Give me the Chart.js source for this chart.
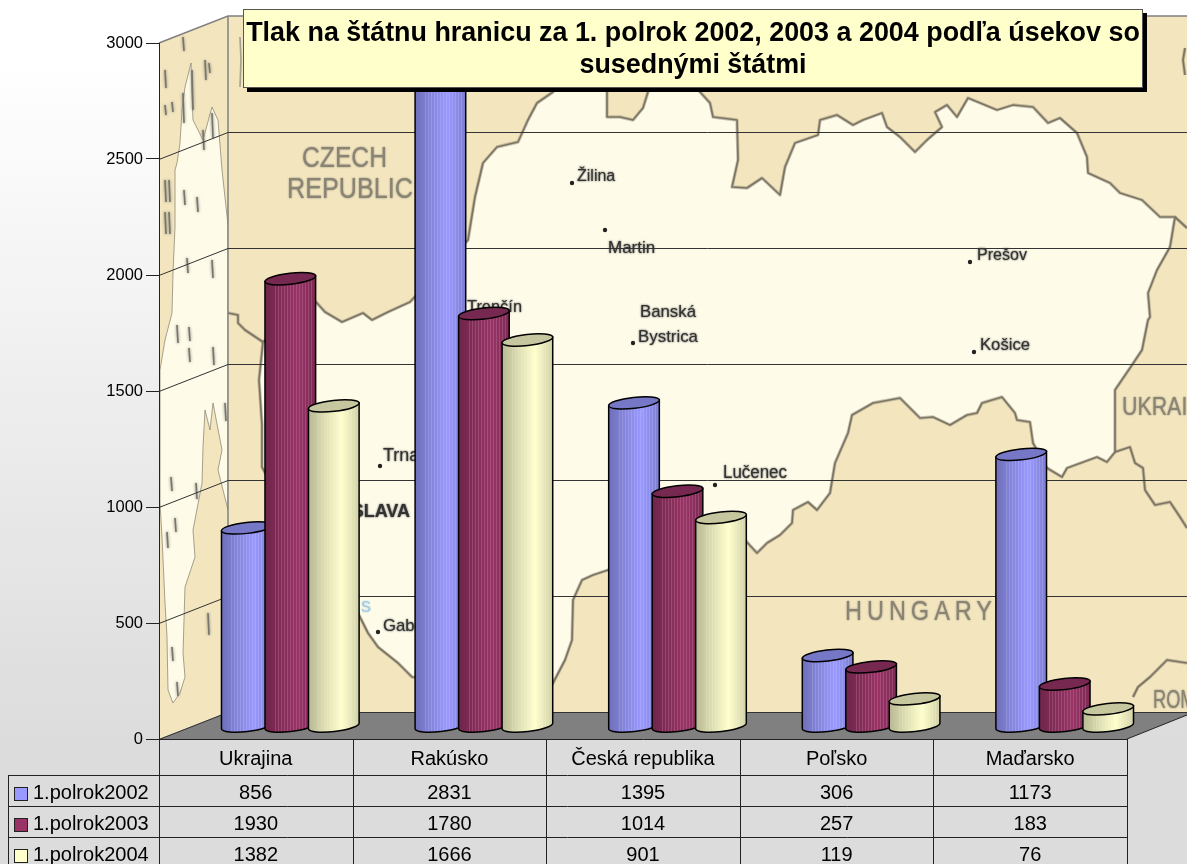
<!DOCTYPE html>
<html>
<head>
<meta charset="utf-8">
<title>Tlak na štátnu hranicu</title>
<script src="https://cdn.jsdelivr.net/npm/chart.js@4"></script>
<style>
    html, body { margin: 0; padding: 0; width: 1187px; height: 864px; overflow: hidden; }
    body { background: linear-gradient(to bottom, #ffffff 0, #ffffff 60px, #dcdcdc 740px, #dcdcdc 864px); position: relative; }
    canvas { position: absolute; left: 0; top: 0; }
    #title {
        position: absolute; left: 243px; top: 9px; width: 898px; height: 71px;
        background: #ffffcc; border: 1px solid #555; box-shadow: 4px 4px 0 #000;
        font: bold 26.9px "Liberation Sans", Arial, sans-serif; color: #000;
        text-align: center; line-height: 32px; padding-top: 6px; white-space: nowrap;
    }
</style>
</head>
<body>
<canvas id="chart" width="1187" height="864"></canvas>
<div id="title">Tlak na štátnu hranicu za 1. polrok 2002, 2003 a 2004 podľa úsekov so<br>susednými štátmi</div>
<script>
// Data
const categories = ['Ukrajina', 'Rakúsko', 'Česká republika', 'Poľsko', 'Maďarsko'];
const seriesNames = ['1.polrok2002', '1.polrok2003', '1.polrok2004'];
const polrok2002 = [856, 2831, 1395, 306, 1173];
const polrok2003 = [1930, 1780, 1014, 257, 183];
const polrok2004 = [1382, 1666, 901, 119, 76];
const seriesColors = ['#9999ff', '#993366', '#ffffcc'];
const yTicks = [0, 500, 1000, 1500, 2000, 2500, 3000];

const FONT = '"Liberation Sans", Arial, sans-serif';
// 3D depth of the box: back wall is shifted this far from the front plane
const DEPTH_X = 69, DEPTH_Y = -27;

function shade(hex, f) {
    const n = parseInt(hex.slice(1), 16);
    const c = s => Math.min(255, Math.round(((n >> s) & 255) * f));
    return `rgb(${c(16)},${c(8)},${c(0)})`;
}

// Map picture behind the plot, traced by hand
const slovakiaOutline = [
    [553,92],[537,103],[528,120],[518,142],[497,147],[483,163],[475,197],[468,240],
    [410,302],[388,312],[372,320],[363,313],[342,322],[325,312],[316,302],
    [263,342],[259,380],[262,425],[262,467],[300,540],[358,613],[368,633],[378,647],[398,663],[412,677],
    [552,685],[565,660],[572,640],[573,600],[582,580],[593,575],[608,570],
    [745,540],[757,553],[767,543],[780,535],[792,523],[793,510],[808,502],[817,510],[830,493],[835,463],
    [848,433],[852,415],[873,403],[900,398],[920,418],[933,417],[950,425],[967,415],[977,413],[982,403],
    [1002,397],[1015,413],[1017,420],[1030,422],[1033,443],[1047,468],[1062,477],[1067,468],[1097,457],
    [1107,462],[1115,452],[1115,420],[1115,390],[1132,365],[1142,350],[1148,320],[1150,317],[1148,293],
    [1157,270],[1170,247],[1175,217],[1160,217],[1142,200],[1120,193],[1110,183],[1088,173],[1087,157],
    [1077,133],[1060,118],[1048,123],[1033,107],[1013,105],[997,110],[968,98],[957,117],[947,105],[935,112],
    [942,127],[927,140],[915,152],[900,137],[887,127],[882,113],[863,120],[853,125],[837,115],[820,120],
    [818,135],[795,143],[785,167],[780,195],[762,178],[747,188],[732,187],[738,160],[737,120],[713,117],
    [710,103],[700,92],[695,80],[648,80],[648,92],[643,108],[633,120],[620,117],[607,117],[607,92],[600,80],[560,80]
];
const sideOutline = [
    [191,63],[192,97],[193,120],[203,140],[212,107],[218,120],[222,170],[228,225],[228,510],[218,470],
    [222,450],[213,403],[210,430],[205,410],[203,447],[202,483],[193,530],[195,557],[185,587],[183,653],
    [185,677],[180,693],[173,703],[168,690],[167,637],[165,603],[162,537],[160,503],[160,370],[165,340],
    [172,313],[173,273],[175,227],[175,170],[177,163],[180,143],[182,110],[185,87]
];
const sideMarks = [
    [165,70,18],[165,105,10],[172,102,10],[205,60,20],[209,63,10],[183,93,30],[192,70,40],[203,130,20],[212,113,25],
    [165,180,22],[169,180,22],[165,212,22],[169,212,22],[184,190,15],[197,197,15],[187,258,15],[212,260,18],
    [177,325,18],[189,327,14],[189,348,14],[213,347,18],[171,477,14],[196,483,16],[175,518,14],[167,532,16],
    [172,647,14],[177,682,14],[208,613,22],[225,403,18],[183,37,14]
];
const cityDots = [[572,183],[605,230],[633,343],[970,262],[974,352],[715,485],[380,466],[378,632]];
const mapLabels = [
    ['CZECH', 302, 167, 85, 30, 0], ['REPUBLIC', 287, 198, 126, 30, 0],
    ['Žilina', 577, 181, 40, 16, 0], ['Martin', 608, 253, 49, 17, 0], ['Trenčín', 467, 312, 55, 17, 0],
    ['Banská', 640, 317, 56, 17, 0], ['Bystrica', 638, 342, 60, 17, 0], ['Prešov', 977, 260, 50, 17, 0],
    ['Košice', 980, 350, 50, 17, 0], ['Lučenec', 723, 478, 64, 18, 0], ['Trnava', 383, 461, 60, 18, 0],
    ['BRATISLAVA', 298, 517, 128, 18, 1], ['Gabčíkovo', 383, 631, 80, 17, 0],
    ['UKRAINE', 1122, 415, 95, 26, 0], ['ROMANIA', 1153, 708, 85, 26, 0]
];

function tracePath(ctx, pts) {
    ctx.beginPath();
    pts.forEach((p, i) => i ? ctx.lineTo(p[0], p[1]) : ctx.moveTo(p[0], p[1]));
}

function polyline(ctx, pts) {
    tracePath(ctx, pts);
    ctx.stroke();
}

// Draw the scan-like border twice so it looks soft
function softBorder(ctx, pts, closed) {
    tracePath(ctx, pts);
    if (closed) ctx.closePath();
    ctx.strokeStyle = 'rgba(125,117,100,0.4)';
    ctx.lineWidth = 3.4;
    ctx.stroke();
    ctx.strokeStyle = '#7d7564';
    ctx.lineWidth = 1.7;
    ctx.stroke();
}

const mapBackground = {
    id: 'mapBackground',
    beforeDraw(chart) {
        const ctx = chart.ctx, area = chart.chartArea, y = chart.scales.y;
        const backLeft = area.left + DEPTH_X, backTop = area.top + DEPTH_Y, backBottom = area.bottom + DEPTH_Y;
        const W = chart.width;

        // back wall
        ctx.save();
        ctx.beginPath();
        ctx.rect(backLeft, backTop, W - backLeft, backBottom - backTop);
        ctx.clip();
        ctx.fillStyle = '#f3e6bf';
        ctx.fillRect(backLeft, backTop, W - backLeft, backBottom - backTop);
        ctx.fillStyle = '#fefbe9';
        tracePath(ctx, slovakiaOutline);
        ctx.closePath();
        ctx.fill();
        ctx.lineJoin = 'round';
        softBorder(ctx, slovakiaOutline, true);
        softBorder(ctx, [[263,342],[245,330],[238,323],[238,315],[228,313]]);
        softBorder(ctx, [[1175,217],[1187,228]]);
        softBorder(ctx, [[1115,452],[1130,447],[1135,463],[1143,468],[1145,490],[1155,505],[1170,502],[1180,517],[1187,528]]);
        softBorder(ctx, [[1133,697],[1138,687],[1150,677],[1167,660],[1187,663]]);
        softBorder(ctx, [[1185,48],[1183,60],[1185,75]]);
        ctx.strokeStyle = '#a8a291';
        polyline(ctx, [[240,37],[241,60],[240,87]]);

        ctx.fillStyle = '#222';
        cityDots.forEach(d => {
            ctx.beginPath();
            ctx.arc(d[0], d[1], 2.2, 0, Math.PI * 2);
            ctx.fill();
        });
        mapLabels.forEach(l => {
            const big = l[4] > 20;
            ctx.fillStyle = big ? '#8a8474' : '#333';
            ctx.shadowColor = ctx.fillStyle;
            ctx.shadowBlur = 2;
            ctx.font = (l[5] ? 'bold ' : '') + l[4] + 'px ' + FONT;
            ctx.fillText(l[0], l[1], l[2], l[3]);
        });
        ctx.fillStyle = '#8a8474';
        ctx.shadowColor = '#8a8474';
        ctx.font = '28px ' + FONT;
        ctx.letterSpacing = '6px';
        ctx.fillText('HUNGARY', 845, 620, 152);
        ctx.letterSpacing = '0px';
        ctx.fillStyle = '#a5cde2';
        ctx.shadowColor = '#a5cde2';
        ctx.font = '20px ' + FONT;
        ctx.fillText('s', 361, 612);
        ctx.restore();

        // side wall
        ctx.save();
        tracePath(ctx, [[area.left, area.top], [backLeft, backTop], [backLeft, backBottom], [area.left, area.bottom]]);
        ctx.closePath();
        ctx.clip();
        ctx.fillStyle = '#f3e6bf';
        ctx.fill();
        ctx.fillStyle = '#fefbe9';
        tracePath(ctx, sideOutline);
        ctx.closePath();
        ctx.fill();
        ctx.strokeStyle = 'rgba(130,124,108,0.7)';
        ctx.lineWidth = 1;
        ctx.stroke();
        ctx.strokeStyle = '#77756c';
        ctx.shadowColor = '#77756c';
        ctx.shadowBlur = 3;
        ctx.lineWidth = 1.6;
        sideMarks.forEach(m => polyline(ctx, [[m[0], m[1]], [m[0] + 1, m[1] + m[2]]]));
        ctx.restore();

        // floor
        ctx.fillStyle = '#808080';
        tracePath(ctx, [[area.left, area.bottom], [backLeft, backBottom], [W, backBottom],
            [W, backBottom + 3], [area.right, area.bottom]]);
        ctx.closePath();
        ctx.fill();

        // frame edges
        ctx.strokeStyle = '#808080';
        ctx.lineWidth = 1.5;
        polyline(ctx, [[area.left, area.top], [backLeft, backTop], [W, backTop]]);
        polyline(ctx, [[backLeft, backTop], [backLeft, backBottom]]);

        // gridlines on both walls
        ctx.strokeStyle = '#333';
        ctx.lineWidth = 1;
        yTicks.forEach(t => {
            if (t === 3000) return;
            const py = Math.round(y.getPixelForValue(t)) + 0.5;
            polyline(ctx, [[area.left, py], [backLeft, py + DEPTH_Y], [W, py + DEPTH_Y]]);
        });
    }
};

// Cylinders use the geometry Chart.js computed for the bars, pushed to mid depth
const cylinderBars = {
    id: 'cylinderBars',
    beforeDatasetsDraw(chart) {
        const ctx = chart.ctx;
        const shiftY = DEPTH_Y / 2 + 1;
        chart.data.datasets.forEach((ds, di) => {
            chart.getDatasetMeta(di).data.forEach(bar => {
                drawCylinder(ctx, bar.x + DEPTH_X / 2, bar.y + shiftY, bar.base + shiftY, bar.width, ds.backgroundColor);
            });
        });
        return false; // the plain rectangles are not wanted
    }
};

function drawCylinder(ctx, cx, top, base, width, color) {
    const a = width / 2, b = 5.5, tilt = -0.115;
    const ex = a * Math.cos(tilt), ey = a * Math.sin(tilt);
    const left = cx - ex, right = cx + ex;

    const body = new Path2D();
    body.moveTo(left, top - ey);
    body.lineTo(left, base - ey);
    body.ellipse(cx, base, a, b, tilt, Math.PI, 0, true);
    body.lineTo(right, top + ey);
    body.closePath();

    const grad = ctx.createLinearGradient(left, 0, right, 0);
    grad.addColorStop(0, shade(color, 0.72));
    grad.addColorStop(0.3, shade(color, 0.86));
    grad.addColorStop(0.65, shade(color, 1));
    grad.addColorStop(1, shade(color, 0.82));

    ctx.save();
    ctx.fillStyle = grad;
    ctx.fill(body);

    // fine vertical banding
    ctx.save();
    ctx.clip(body);
    ctx.strokeStyle = 'rgba(255,255,255,0.14)';
    ctx.lineWidth = 1;
    for (let x = Math.round(left) + 10.5; x < right - 2; x += 3) {
        ctx.beginPath();
        ctx.moveTo(x, top - 10);
        ctx.lineTo(x, base + 10);
        ctx.stroke();
    }
    ctx.restore();

    ctx.strokeStyle = '#000';
    ctx.lineWidth = 1.5;
    ctx.stroke(body);

    ctx.beginPath();
    ctx.ellipse(cx, top, a, b, tilt, 0, Math.PI * 2);
    ctx.fillStyle = shade(color, 0.78);
    ctx.fill();
    ctx.stroke();
    ctx.restore();
}

// Data table under the x axis, with the legend swatches in its first column
const dataTable = {
    id: 'dataTable',
    afterDraw(chart) {
        const ctx = chart.ctx, area = chart.chartArea;
        const rows = [polrok2002, polrok2003, polrok2004];
        const rowLines = [775, 806, 837];
        const colW = (area.right - area.left) / categories.length;
        const bottom = chart.height;

        ctx.save();
        ctx.strokeStyle = '#222';
        ctx.lineWidth = 1;
        rowLines.forEach(ly => polyline(ctx, [[8, ly + 0.5], [area.right, ly + 0.5]]));
        polyline(ctx, [[8.5, rowLines[0]], [8.5, bottom]]);
        for (let i = 0; i <= categories.length; i++) {
            const lx = Math.round(area.left + colW * i) + 0.5;
            polyline(ctx, [[lx, area.bottom], [lx, bottom]]);
        }
        polyline(ctx, [[area.right, area.bottom], [chart.width, area.bottom - 24]]);

        ctx.font = '20px ' + FONT;
        ctx.textBaseline = 'middle';
        ctx.fillStyle = '#000';
        rows.forEach((row, r) => {
            const cy = rowLines[r] + 17;
            ctx.textAlign = 'left';
            ctx.fillStyle = seriesColors[r];
            ctx.fillRect(14, cy - 5, 13, 13);
            ctx.strokeRect(14.5, cy - 4.5, 13, 13);
            ctx.fillStyle = '#000';
            ctx.fillText(seriesNames[r], 33, cy + 1);
            ctx.textAlign = 'center';
            row.forEach((v, c) => ctx.fillText(String(v), area.left + colW * (c + 0.5), cy + 1));
        });
        ctx.restore();
    }
};

const chart = new Chart(document.getElementById('chart').getContext('2d'), {
    type: 'bar',
    data: {
        labels: categories,
        datasets: [
            { label: seriesNames[0], data: polrok2002, backgroundColor: seriesColors[0] },
            { label: seriesNames[1], data: polrok2003, backgroundColor: seriesColors[1] },
            { label: seriesNames[2], data: polrok2004, backgroundColor: seriesColors[2] }
        ]
    },
    options: {
        responsive: false,
        animation: false,
        layout: { padding: { top: 43, right: 60, left: 0, bottom: 0 } },
        datasets: { bar: { categoryPercentage: 0.674, barPercentage: 1.172 } },
        plugins: { legend: { display: false }, title: { display: false }, tooltip: { enabled: false } },
        scales: {
            x: {
                grid: { display: false },
                border: { color: '#222' },
                afterFit: s => { s.height = 125; },
                ticks: { color: '#000', font: { family: FONT, size: 20 }, padding: 0, maxRotation: 0, autoSkip: false }
            },
            y: {
                min: 0,
                max: 3000,
                afterFit: s => { s.width = 159; },
                grid: { drawOnChartArea: false, color: '#222', tickLength: 13 },
                border: { color: '#222' },
                ticks: { stepSize: 500, color: '#000', font: { family: FONT, size: 16.5 }, padding: 3, callback: v => String(v) }
            }
        }
    },
    plugins: [mapBackground, cylinderBars, dataTable]
});
</script>
</body>
</html>
